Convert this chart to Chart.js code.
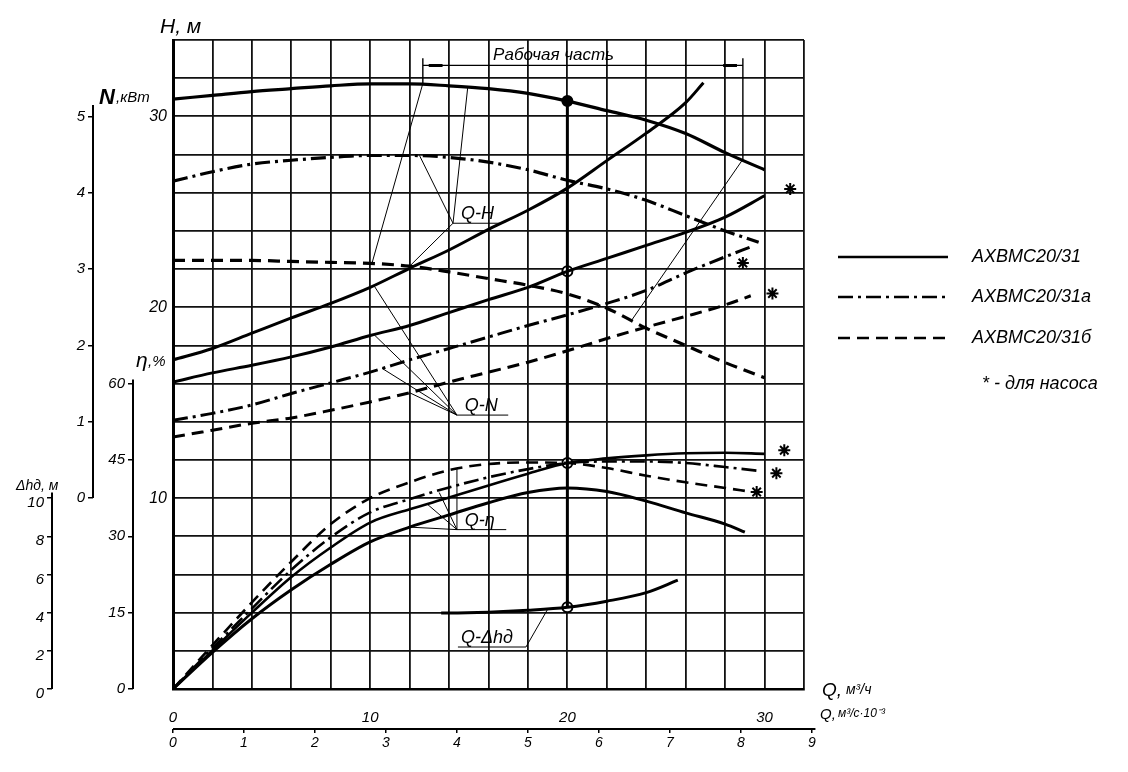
<!DOCTYPE html>
<html>
<head>
<meta charset="utf-8">
<script src="https://cdn.jsdelivr.net/npm/chart.js@4.4.0/dist/chart.umd.min.js"></script>
<style>
body{margin:0;background:#fff;}
</style>
</head>
<body>
<canvas id="chart" width="1128" height="772"></canvas>
<script>
'use strict'
//===== данные =====
// подача Q, м3/ч
const qFull = [0,2,4,6,8,10,12,14,16,18,20,22,24,26,28,30];
const qHeadA = [0,2,4,6,8,10,12,14,16,18,20,22,24,26,28,29.7];
const qPowUnit = [0,2,4,6,8,10,12,14,16,18,20,22,24,26,26.9];
const qPowA = [0,2,4,6,8,10,12,14,16,18,20,22,24,26,28,29.3];
const qPowB = [0,2,4,6,8,10,12,14,16,18,20,22,24,26,28,29.3];
const qEffA = [0,2,4,6,8,10,12,14,16,18,20,22,24,26,28,29.6];
const qEffB = [0,2,4,6,8,10,12,14,16,18,20,22,24,26,28,29.2];
const qEffUnit = [0,2,4,6,8,10,12,14,16,18,20,22,24,26,28,29.0];
const qNpsh = [13.6,14,16,18,20,22,24,25.6];

// напор H, м
const headMain = [30.9,31.1,31.3,31.45,31.6,31.7,31.7,31.6,31.45,31.2,30.8,30.3,29.8,29.1,28.1,27.2];
const headA = [26.6,27.1,27.5,27.7,27.85,27.95,27.95,27.85,27.6,27.2,26.65,26.2,25.6,24.8,24.0,23.4];
const headB = [22.45,22.45,22.45,22.4,22.35,22.3,22.15,21.85,21.5,21.15,20.7,19.95,18.9,18.0,17.1,16.3];

// мощность N, кВт
const powerUnit = [1.81,1.96,2.16,2.36,2.55,2.76,3.01,3.25,3.52,3.77,4.06,4.42,4.78,5.18,5.44];
const powerMain = [1.52,1.64,1.74,1.85,1.98,2.13,2.26,2.43,2.6,2.76,2.97,3.14,3.31,3.48,3.68,3.96];
const powerA = [1.02,1.11,1.22,1.37,1.51,1.65,1.81,1.96,2.11,2.26,2.40,2.55,2.72,2.95,3.16,3.29];
const powerB = [0.80,0.89,0.98,1.05,1.15,1.26,1.38,1.52,1.65,1.78,1.93,2.09,2.24,2.38,2.53,2.65];

// кпд, %
const effMain = [0,7.6,15,22,27.8,32.7,35.3,37.6,40.0,42.3,44.4,45.3,45.9,46.3,46.4,46.2];
const effA = [0,8,15.8,23.4,29.8,34.7,37.3,39.6,41.6,43.2,44.4,44.7,44.7,44.4,43.6,42.9];
const effB = [0,8.6,17,25,32.4,37.5,40.6,43.0,44.2,44.5,44.4,43.4,41.9,40.6,39.5,38.8];
const effUnit = [0,7.2,13.8,19.5,24.5,28.9,31.8,34.2,36.6,38.6,39.5,38.8,36.9,34.6,32.4,30.8];

// допустимый кавитационный запас, м
const npsh = [3.98,3.98,4.02,4.12,4.28,4.6,5.05,5.7];

// звездочки (для насоса)
const starPowQ = [31.3,28.9,30.4];
const starPow = [4.05,3.08,2.68];
const starEffQ = [31.0,30.6,29.6];
const starEff = [46.9,42.4,38.7];

// рабочая точка Q=20
const dutyQ = 20;
const dutyH = 30.8, dutyN = 2.97, dutyEff = 44.4, dutyDh = 4.28;

// шкалы
const qTicks = [0,2,4,6,8,10,12,14,16,18,20,22,24,26,28,30,32];
const hTicks = [0,2,4,6,8,10,12,14,16,18,20,22,24,26,28,30,32,34];
const lsTicks = [0,1,2,3,4,5,6,7,8,9];
const nTicks = [0,1,2,3,4,5];
const effTicks = [0,15,30,45,60];
const dhTicks = [0,2,4,6,8,10];

const legendNames = ['АХВМС20/31','АХВМС20/31а','АХВМС20/31б'];

//==================================================================================================

const SOLID = [];
const DASHDOT = [15,5,3,5];
const DASHED = [12,7];
const FONT = "'Liberation Sans', Arial, sans-serif";

function pts(qs, vals){
    return qs.map((q,i) => ({x:q, y:vals[i]}));
}

function curve(qs, vals, axis, dash, width){
    return {
        data: pts(qs, vals),
        yAxisID: axis,
        showLine: true,
        borderColor: '#000',
        borderWidth: width,
        borderDash: dash,
        pointRadius: 0,
        cubicInterpolationMode: 'monotone',
        fill: false
    };
}

function marks(qs, vals, axis, style, r, bg){
    return {
        data: pts(qs, vals),
        yAxisID: axis,
        showLine: false,
        pointStyle: style,
        pointRadius: r,
        borderWidth: 2,
        borderColor: '#000',
        backgroundColor: bg
    };
}

const datasets = [
    curve(qFull, headMain, 'H', SOLID, 3.2),
    curve(qHeadA, headA, 'H', DASHDOT, 3.2),
    curve(qFull, headB, 'H', DASHED, 3.2),
    curve(qPowUnit, powerUnit, 'N', SOLID, 3),
    curve(qFull, powerMain, 'N', SOLID, 3),
    curve(qPowA, powerA, 'N', DASHDOT, 3),
    curve(qPowB, powerB, 'N', DASHED, 3),
    curve(qFull, effMain, 'eta', SOLID, 2.6),
    curve(qEffA, effA, 'eta', DASHDOT, 2.6),
    curve(qEffB, effB, 'eta', DASHED, 2.6),
    curve(qEffUnit, effUnit, 'eta', SOLID, 3),
    curve(qNpsh, npsh, 'dh', SOLID, 3),
    curve([dutyQ, dutyQ], [dutyH, dutyDh], 'H', SOLID, 3),
    marks(starPowQ, starPow, 'N', 'star', 6, '#000'),
    marks(starEffQ, starEff, 'eta', 'star', 6, '#000'),
    marks([dutyQ], [dutyH], 'H', 'circle', 5, '#000'),
    marks([dutyQ], [dutyN], 'N', 'circle', 5, '#fff'),
    marks([dutyQ], [dutyEff], 'eta', 'circle', 5, '#fff'),
    marks([dutyQ], [dutyDh], 'dh', 'circle', 5, '#fff')
];

//==================================================================================================

function setTicks(list){
    return function(scale){
        scale.ticks = list.map(v => ({value: v}));
    };
}

function sideAxis(min, max, list, weight, width, offset){
    return {
        type: 'linear', position: 'left', min: min, max: max, weight: weight,
        afterBuildTicks: setTicks(list),
        afterFit: function(scale){ scale.width = width; },
        border: {display: false},
        grid: {drawOnChartArea: false, drawTicks: true, tickLength: 5, color: '#000', lineWidth: 1.5},
        ticks: {color: '#000', padding: 3, labelOffset: offset, font: {family: FONT, size: 15, style: 'italic'}, autoSkip: false}
    };
}

// надписи, выноски, легенда
const extras = {
    id: 'extras',
    afterDraw(chart){
        const ctx = chart.ctx;
        const sx = chart.scales.x;
        const sx2 = chart.scales.x2;
        const ax = chart.scales;
        const X = q => sx.getPixelForValue(q);
        const Y = (id, v) => ax[id].getPixelForValue(v);

        ctx.save();
        ctx.strokeStyle = '#000';
        ctx.fillStyle = '#000';
        ctx.lineCap = 'butt';

        // частичные оси слева
        ctx.lineWidth = 2;
        [['dh', 0, 10.3], ['N', 0, 5.15], ['eta', 0, 60.8]].forEach(([id, a, b]) => {
            const xx = ax[id].right;
            ctx.beginPath();
            ctx.moveTo(xx, Y(id, a));
            ctx.lineTo(xx, Y(id, b));
            ctx.stroke();
        });

        // нижняя ось м3/с
        const yb = sx2.top;
        ctx.beginPath();
        ctx.moveTo(X(0), yb);
        ctx.lineTo(sx2.getPixelForValue(9.05), yb);
        ctx.stroke();

        // рабочая часть
        ctx.lineWidth = 1.4;
        const bl = 12.67, br = 28.9;
        ctx.beginPath();
        ctx.moveTo(X(bl), Y('H', 32.67));
        ctx.lineTo(X(br), Y('H', 32.67));
        ctx.moveTo(X(bl), Y('H', 33.05));
        ctx.lineTo(X(bl), Y('H', 31.72));
        ctx.moveTo(X(br), Y('H', 33.05));
        ctx.lineTo(X(br), Y('H', 27.75));
        ctx.stroke();
        ctx.lineWidth = 3;
        ctx.beginPath();
        ctx.moveTo(X(bl + 0.3), Y('H', 32.67));
        ctx.lineTo(X(bl + 1.0), Y('H', 32.67));
        ctx.moveTo(X(br - 1.0), Y('H', 32.67));
        ctx.lineTo(X(br - 0.3), Y('H', 32.67));
        ctx.stroke();

        // тонкие линии
        ctx.lineWidth = 1;
        const thin = [
            [bl, 'H', 31.72, 10.09, 'H', 22.3],
            [br, 'H', 27.75, 23.26, 'H', 19.32],
            // Q-H
            [14.2, 'H', 24.4, 16.6, 'H', 24.4],
            [14.2, 'H', 24.4, 14.95, 'H', 31.55],
            [14.2, 'H', 24.4, 12.5, 'H', 27.95],
            [14.2, 'H', 24.4, 12.0, 'H', 22.15],
            // Q-N
            [14.4, 'H', 14.35, 17.0, 'H', 14.35],
            [14.4, 'H', 14.35, 10.2, 'N', 2.78],
            [14.4, 'H', 14.35, 10.2, 'N', 2.14],
            [14.4, 'H', 14.35, 10.6, 'N', 1.70],
            [14.4, 'H', 14.35, 12.0, 'N', 1.38],
            // Q-eta
            [14.4, 'H', 8.35, 16.9, 'H', 8.35],
            [14.4, 'H', 8.35, 14.4, 'eta', 43.3],
            [14.4, 'H', 8.35, 13.5, 'eta', 38.6],
            [14.4, 'H', 8.35, 12.9, 'eta', 36.3],
            [14.4, 'H', 8.35, 12.0, 'eta', 31.8],
            // Q-dh
            [14.45, 'H', 2.2, 17.9, 'H', 2.2],
            [17.9, 'H', 2.2, 19.0, 'dh', 4.18]
        ];
        ctx.beginPath();
        thin.forEach(([q1, a1, v1, q2, a2, v2]) => {
            ctx.moveTo(X(q1), Y(a1, v1));
            ctx.lineTo(X(q2), Y(a2, v2));
        });
        ctx.stroke();

        // подписи кривых
        ctx.textBaseline = 'alphabetic';
        ctx.textAlign = 'left';
        ctx.font = 'italic 18px ' + FONT;
        ctx.fillText('Q-H', X(14.6), Y('H', 24.4) - 4);
        ctx.fillText('Q-N', X(14.8), Y('H', 14.35) - 4);
        ctx.fillText('Q-η', X(14.8), Y('H', 8.35) - 4);
        ctx.fillText('Q-Δhд', X(14.6), Y('H', 2.2) - 4);

        ctx.textAlign = 'center';
        ctx.font = 'italic 17px ' + FONT;
        ctx.fillText('Рабочая часть', X(19.3), Y('H', 32.67) - 5);

        // заголовки осей
        ctx.textAlign = 'left';
        ctx.font = 'italic 21px ' + FONT;
        ctx.fillText('H, м', 160, 33);
        ctx.font = 'italic bold 22px ' + FONT;
        ctx.fillText('N', 99, 104);
        ctx.font = 'italic 15px ' + FONT;
        ctx.fillText(',кВт', 116, 102);
        ctx.font = 'italic 21px ' + FONT;
        ctx.fillText('η', 136, 367);
        ctx.font = 'italic 15px ' + FONT;
        ctx.fillText(',%', 148, 366);
        ctx.font = 'italic 14px ' + FONT;
        ctx.fillText('Δhд, м', 16, 490);
        ctx.font = 'italic 19px ' + FONT;
        ctx.fillText('Q,', 822, 696);
        ctx.font = 'italic 14px ' + FONT;
        ctx.fillText('м³/ч', 846, 694);
        ctx.font = 'italic 15px ' + FONT;
        ctx.fillText('Q,', 820, 719);
        ctx.font = 'italic 12px ' + FONT;
        ctx.fillText('м³/с·10⁻³', 838, 717);

        // легенда
        const ly = [257, 297, 338];
        const ld = [SOLID, DASHDOT, DASHED];
        ctx.lineWidth = 2.6;
        ly.forEach((y, i) => {
            ctx.setLineDash(ld[i]);
            ctx.beginPath();
            ctx.moveTo(838, y);
            ctx.lineTo(948, y);
            ctx.stroke();
        });
        ctx.setLineDash([]);
        ctx.font = 'italic 18px ' + FONT;
        ctx.textBaseline = 'middle';
        ly.forEach((y, i) => ctx.fillText(legendNames[i], 972, y));
        ctx.fillText('* - для насоса', 982, 384);

        ctx.restore();
    }
};

//==================================================================================================

new Chart(document.getElementById('chart'), {
    type: 'scatter',
    data: {datasets: datasets},
    options: {
        responsive: false,
        animation: false,
        devicePixelRatio: 1,
        layout: {padding: {top: 40, right: 324, bottom: 0, left: 0}},
        plugins: {legend: {display: false}, tooltip: {enabled: false}},
        scales: {
            x: {
                type: 'linear', position: 'bottom', min: 0, max: 32, weight: 0,
                afterBuildTicks: setTicks(qTicks),
                afterFit: function(scale){ scale.height = 40; },
                border: {color: '#000', width: 2.5},
                grid: {color: '#111', lineWidth: 1.8, drawTicks: false},
                ticks: {
                    color: '#000', padding: 20, autoSkip: false, maxRotation: 0,
                    font: {family: FONT, size: 15, style: 'italic'},
                    callback: v => (v % 10 === 0 ? String(v) : '')
                }
            },
            x2: {
                type: 'linear', position: 'bottom', min: 0, max: 32 / 3.6, weight: 1,
                afterBuildTicks: setTicks(lsTicks),
                afterFit: function(scale){ scale.height = 43; },
                border: {display: false},
                grid: {drawOnChartArea: false, drawTicks: true, tickLength: 4, color: '#000', lineWidth: 1.5},
                ticks: {
                    color: '#000', padding: 2, autoSkip: false, maxRotation: 0,
                    font: {family: FONT, size: 14, style: 'italic'}
                }
            },
            H: {
                type: 'linear', position: 'left', min: 0, max: 34, weight: 0,
                afterBuildTicks: setTicks(hTicks),
                afterFit: function(scale){ scale.width = 40; },
                border: {color: '#000', width: 3},
                grid: {color: '#111', lineWidth: 1.8, drawTicks: false},
                ticks: {
                    color: '#000', padding: 6, autoSkip: false,
                    font: {family: FONT, size: 16, style: 'italic'},
                    callback: v => (v > 0 && v % 10 === 0 ? String(v) : '')
                }
            },
            eta: sideAxis(0, 127.5, effTicks, 1, 40, 0),
            N: sideAxis(-2.5, 6, nTicks, 2, 41, 0),
            dh: sideAxis(0, 34, dhTicks, 3, 52, 5)
        }
    },
    plugins: [extras]
});
</script>
</body>
</html>
